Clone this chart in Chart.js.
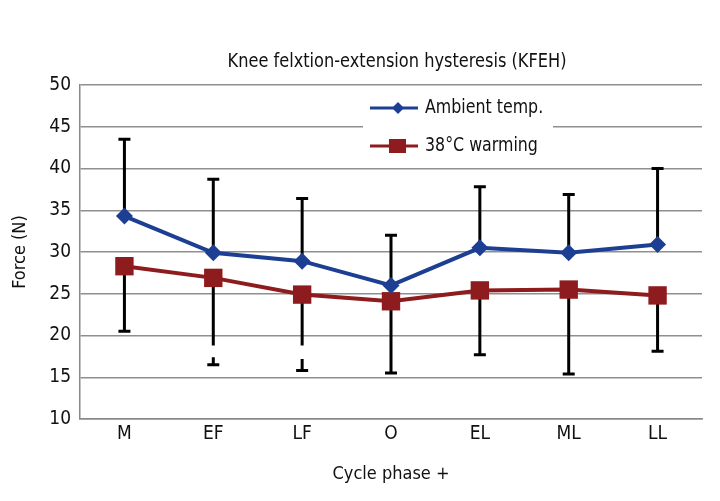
<!DOCTYPE html>
<html>
<head>
<meta charset="utf-8">
<script src="https://cdn.jsdelivr.net/npm/chart.js@4.4.1/dist/chart.umd.min.js"></script>
<style>
  html, body { margin: 0; padding: 0; background: #fff; }
  #wrap { width: 720px; height: 501px; }
</style>
</head>
<body>
<div id="wrap"><canvas id="kfeh"></canvas></div>
<script>
const chartTitle = 'Knee felxtion-extension hysteresis (KFEH)';
const phases = ['M', 'EF', 'LF', 'O', 'EL', 'ML', 'LL'];
const ambient = [34.3, 29.9, 28.9, 26.0, 30.5, 29.9, 30.9];
const ambientUpper = [43.5, 38.7, 36.4, 32.0, 37.8, 36.9, 40.0];
const warming = [28.3, 26.9, 24.9, 24.1, 25.4, 25.5, 24.8];
const warmingLower = [20.5, 16.5, 15.8, 15.5, 17.7, 15.4, 18.1];
// the lower whiskers at EF and LF are broken in the original
const warmingGap = [null, [18.8, 17.4], [18.8, 17.2], null, null, null, null];

const fontFam = '"DejaVu Sans Condensed", "DejaVu Sans", sans-serif';
const txt = (size) => ({ family: fontFam, size: size, style: 'condensed', weight: 'normal' });

// black whiskers: ambient goes up, warming goes down
const errorBars = {
    id: 'errorBars',
    beforeDatasetsDraw(chart) {
        const ctx = chart.ctx;
        const y = chart.scales.y;
        ctx.save();
        ctx.strokeStyle = '#000';
        ctx.lineWidth = 3;
        const ends = [ambientUpper, warmingLower];
        chart.data.datasets.forEach((ds, i) => {
            const meta = chart.getDatasetMeta(i);
            meta.data.forEach((pt, j) => {
                const yEnd = y.getPixelForValue(ends[i][j]);
                const gap = i === 1 ? warmingGap[j] : null;
                ctx.beginPath();
                ctx.moveTo(pt.x, pt.y);
                if (gap) {
                    ctx.lineTo(pt.x, y.getPixelForValue(gap[0]));
                    ctx.moveTo(pt.x, y.getPixelForValue(gap[1]));
                }
                ctx.lineTo(pt.x, yEnd);
                ctx.moveTo(pt.x - 6, yEnd);
                ctx.lineTo(pt.x + 6, yEnd);
                ctx.stroke();
            });
        });
        ctx.restore();
    }
};

// title + legend box sitting inside the plot area
const boxLegend = {
    id: 'boxLegend',
    beforeDatasetsDraw(chart) {
        const ctx = chart.ctx;
        const a = chart.chartArea;
        ctx.save();
        ctx.fillStyle = '#111';
        ctx.font = 'condensed 20px ' + fontFam;
        ctx.textAlign = 'center';
        ctx.textBaseline = 'middle';
        ctx.save();
        ctx.translate((a.left + a.right) / 2 + 6, 62);
        ctx.scale(0.9, 1);
        ctx.fillText(chartTitle, 0, 0);
        ctx.restore();

        const x0 = a.left + 283, y0 = a.top + 5;
        ctx.fillStyle = '#fff';
        ctx.fillRect(x0, y0, 190, 78);
        ctx.textAlign = 'left';
        chart.data.datasets.forEach((ds, i) => {
            const cy = y0 + 18 + i * 38;
            ctx.strokeStyle = ds.borderColor;
            ctx.lineWidth = 3;
            ctx.beginPath();
            ctx.moveTo(x0 + 7, cy);
            ctx.lineTo(x0 + 55, cy);
            ctx.stroke();
            ctx.fillStyle = ds.borderColor;
            if (i === 0) {
                ctx.beginPath();
                ctx.moveTo(x0 + 35, cy - 6);
                ctx.lineTo(x0 + 41, cy);
                ctx.lineTo(x0 + 35, cy + 6);
                ctx.lineTo(x0 + 29, cy);
                ctx.closePath();
                ctx.fill();
            } else {
                ctx.fillRect(x0 + 26, cy - 7, 17, 14);
            }
            ctx.fillStyle = '#111';
            ctx.font = 'condensed 20px ' + fontFam;
            ctx.save();
            ctx.translate(x0 + 62, cy);
            ctx.scale(0.88, 1);
            ctx.fillText(ds.label, 0, 0);
            ctx.restore();
        });
        ctx.restore();
    }
};

new Chart(document.getElementById('kfeh'), {
    type: 'line',
    data: {
        labels: phases,
        datasets: [{
            label: 'Ambient temp.',
            data: ambient,
            borderColor: '#1c3f93',
            backgroundColor: '#1c3f93',
            borderWidth: 4,
            tension: 0,
            pointStyle: 'rectRot',
            pointRadius: 8.5,
            pointBorderWidth: 0
        }, {
            label: '38°C warming',
            data: warming,
            borderColor: '#8e1b1e',
            backgroundColor: '#8e1b1e',
            borderWidth: 4,
            tension: 0,
            pointStyle: 'rect',
            pointRadius: 13,
            pointBorderWidth: 0
        }]
    },
    options: {
        responsive: true,
        maintainAspectRatio: false,
        animation: false,
        layout: { padding: { left: 0, right: 18, top: 85, bottom: 12 } },
        plugins: {
            legend: { display: false },
            tooltip: { enabled: false },
            title: { display: false }
        },
        scales: {
            x: {
                offset: true,
                grid: { display: false, drawTicks: false },
                border: { color: '#888', width: 1.5 },
                ticks: { color: '#111', font: txt(19), padding: 4 },
                title: {
                    display: true,
                    text: 'Cycle phase +',
                    color: '#111',
                    font: txt(18),
                    padding: { top: 4 }
                },
                afterFit(s) { s.height = 70; }
            },
            y: {
                min: 10,
                max: 50,
                ticks: { stepSize: 5, color: '#111', font: txt(19), padding: 9 },
                grid: { color: '#8f8f8f', lineWidth: 1.5, drawTicks: false },
                border: { color: '#888', width: 1.5 },
                title: {
                    display: true,
                    text: 'Force (N)',
                    color: '#111',
                    font: txt(18),
                    padding: { top: 10, bottom: 4 }
                },
                afterFit(s) { s.width = 80; }
            }
        }
    },
    plugins: [boxLegend, errorBars]
});
</script>
</body>
</html>
